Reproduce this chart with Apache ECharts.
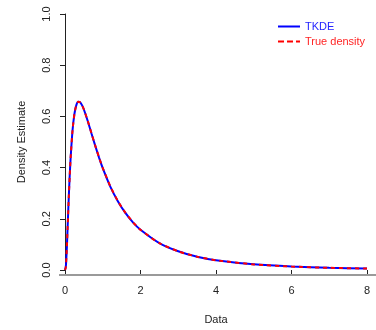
<!DOCTYPE html>
<html>
<head>
<meta charset="utf-8">
<script src="https://cdn.jsdelivr.net/npm/echarts@6/dist/echarts.min.js"></script>
<style>
  html, body { margin: 0; padding: 0; background: #fff; }
  #chart { width: 376px; height: 330px; }
</style>
</head>
<body>
<div id="chart"></div>
<script>
// data
const xs = [0, 0.02, 0.03, 0.05, 0.075, 0.1, 0.125, 0.15, 0.2, 0.25, 0.3, 0.35, 0.4, 0.45, 0.5, 0.6, 0.7, 0.8, 0.9, 1.0,
  1.2, 1.4, 1.6, 1.8, 2.0, 2.5, 3.0, 3.5, 4.0, 5.0, 6.0, 7.0, 8.0];
const tkde = [0, 0.012, 0.03, 0.09, 0.19, 0.285, 0.37, 0.44, 0.546, 0.61, 0.644, 0.657, 0.655, 0.644, 0.627, 0.583, 0.534, 0.486, 0.44, 0.398,
  0.326, 0.269, 0.223, 0.186, 0.157, 0.105, 0.073, 0.052, 0.038, 0.022, 0.0135, 0.0087, 0.0058];
const trueDensity = [0, 0.0095, 0.0285, 0.0898, 0.1857, 0.2816, 0.3673, 0.4399, 0.5463, 0.6104, 0.6442, 0.657, 0.6555, 0.6445, 0.6276, 0.5836, 0.5348, 0.4864, 0.4408, 0.3989,
  0.327, 0.2693, 0.2233, 0.1865, 0.1569, 0.1049, 0.0727, 0.052, 0.0382, 0.0219, 0.0134, 0.0086, 0.0057];
const xTicks = [0, 8, 2];
const yTicks = [0, 1, 0.2];

const chart = echarts.init(document.getElementById('chart'));
const font = '"Liberation Sans", Arial, sans-serif';

const option = {
  animation: false,
  textStyle: { fontFamily: font },
  grid: { left: 65, right: 9, top: 14, bottom: 55 },
  legend: {
    orient: 'vertical',
    left: 273,
    top: 16,
    itemWidth: 22,
    itemHeight: 2,
    itemGap: 4,
    textStyle: { fontSize: 11, fontFamily: font, padding: [0, 0, 0, 0] },
    data: [
      { name: 'TKDE', icon: 'path://M0,0h22v2h-22z',
        textStyle: { color: '#2525ff' } },
      { name: 'True density', icon: 'path://M0,0h6v2h-6z M9,0h6v2h-6z M18,0h4v2h-4z',
        textStyle: { color: '#ff2525' } }
    ]
  },
  xAxis: {
    type: 'value',
    min: xTicks[0],
    max: xTicks[1],
    interval: xTicks[2],
    name: 'Data',
    nameLocation: 'middle',
    nameGap: 44,
    nameTextStyle: { fontSize: 11, color: '#222' },
    axisLine: { show: false },
    axisTick: { show: true, length: 5, lineStyle: { color: '#222' } },
    axisLabel: { fontSize: 11, color: '#222', margin: 15 },
    splitLine: { show: false }
  },
  yAxis: {
    type: 'value',
    min: yTicks[0],
    max: yTicks[1],
    interval: yTicks[2],
    name: 'Density Estimate',
    nameLocation: 'middle',
    nameRotate: 90,
    nameGap: 38,
    nameTextStyle: { fontSize: 11, color: '#222' },
    axisLine: { show: true, lineStyle: { color: '#222', width: 1 } },
    axisTick: { show: true, length: 5, lineStyle: { color: '#222' } },
    axisLabel: { fontSize: 11, color: '#222', rotate: 90, margin: 13,
      formatter: v => v.toFixed(1) },
    splitLine: { show: false }
  },
  graphic: [{
    type: 'line',
    z: 1,
    shape: { x1: 59, y1: 275, x2: 376, y2: 275 },
    style: { stroke: '#9a9a9a', lineWidth: 2 }
  }],
  series: [
    {
      name: 'TKDE',
      type: 'line',
      data: xs.map((x, i) => [x, tkde[i]]),
      showSymbol: false,
      symbol: 'none',
      smooth: 0.2,
      z: 3,
      lineStyle: { color: '#0000ff', width: 2 },
      itemStyle: { color: '#0000ff' }
    },
    {
      name: 'True density',
      type: 'line',
      data: xs.map((x, i) => [x, trueDensity[i]]),
      showSymbol: false,
      symbol: 'none',
      smooth: 0.2,
      z: 4,
      lineStyle: { color: '#ff0000', width: 2, type: [4, 4] },
      itemStyle: { color: '#ff0000' }
    }
  ]
};

chart.setOption(option);
</script>
</body>
</html>
